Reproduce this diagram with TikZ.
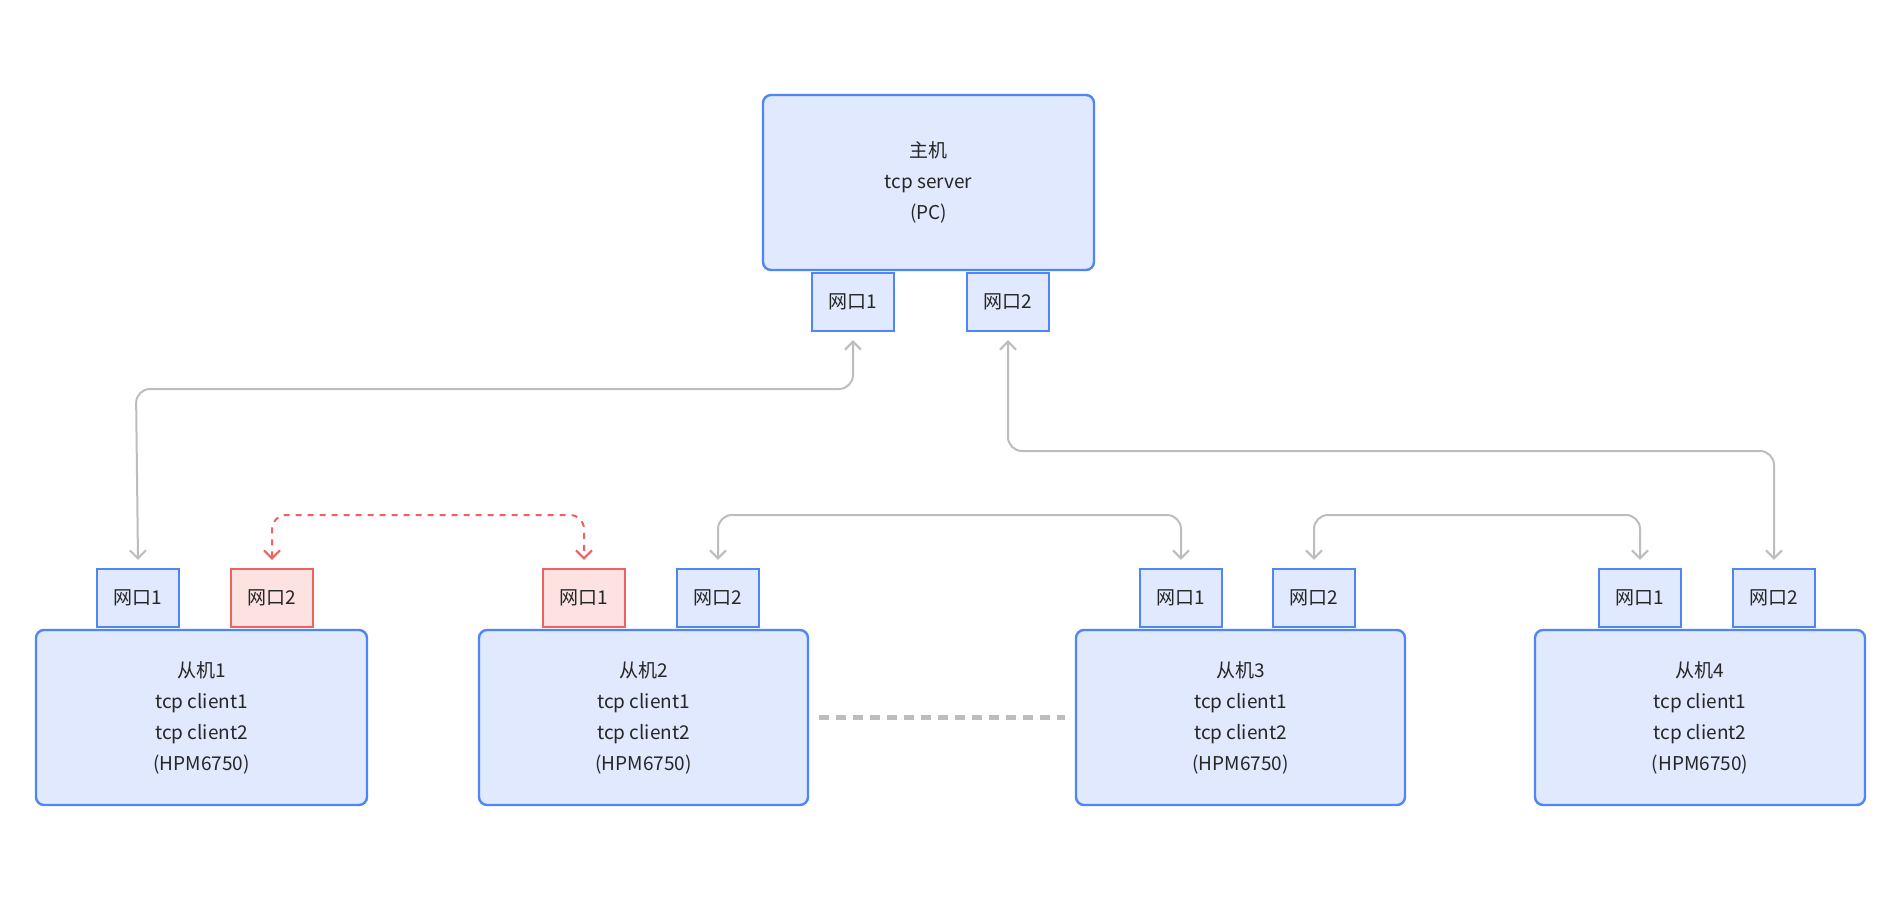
\documentclass[tikz,border=0pt]{standalone}
\usepackage{fontspec}
\setmainfont{Noto Sans CJK SC}
\usetikzlibrary{arrows.meta}
\definecolor{bstroke}{HTML}{4F86F7}
\definecolor{bfill}{HTML}{E0E9FD}
\definecolor{rstroke}{HTML}{F0625F}
\definecolor{rfill}{HTML}{FDE2E2}
\definecolor{gline}{HTML}{BDBDBD}
\definecolor{txt}{HTML}{262626}
\begin{document}
\begin{tikzpicture}[x=0.5pt,y=-0.5pt,
 font=\fontsize{9.5}{15.5}\selectfont, text=txt,
 box/.style={draw=bstroke,fill=bfill,line width=1.2pt,rounded corners=4pt,align=center},
 port/.style={draw=bstroke,fill=bfill,line width=1.2pt,minimum width=41pt,minimum height=29pt,inner sep=0pt},
 rport/.style={port,draw=rstroke,fill=rfill},
 conn/.style={draw=gline,line width=1pt,rounded corners=7pt,{Straight Barb[length=4pt,width=8pt]}-{Straight Barb[length=4pt,width=8pt]}},
 rconn/.style={conn,draw=rstroke,dashed}]
\useasboundingbox (0,0) rectangle (1895,904);
\fill[white] (0,0) rectangle (1895,904);
\node[box,minimum width=165.5pt,minimum height=87.5pt] (host) at (928.5,182.5) {主机\\tcp server\\(PC)};
\node[port] (hp1) at (853,302) {网口1};
\node[port] (hp2) at (1008,302) {网口2};
\node[box,minimum width=165.5pt,minimum height=87.5pt] (s1) at (201.5,717.5) {从机1\\tcp client1\\tcp client2\\(HPM6750)};
\node[box,minimum width=164.5pt,minimum height=87.5pt] (s2) at (643.5,717.5) {从机2\\tcp client1\\tcp client2\\(HPM6750)};
\node[box,minimum width=164.5pt,minimum height=87.5pt] (s3) at (1240.5,717.5) {从机3\\tcp client1\\tcp client2\\(HPM6750)};
\node[box,minimum width=165pt,minimum height=87.5pt] (s4) at (1700,717.5) {从机4\\tcp client1\\tcp client2\\(HPM6750)};
\node[port] (a1) at (138,598) {网口1};
\node[rport] (a2) at (272,598) {网口2};
\node[rport] (b1) at (584,598) {网口1};
\node[port] (b2) at (718,598) {网口2};
\node[port] (c1) at (1181,598) {网口1};
\node[port] (c2) at (1314,598) {网口2};
\node[port] (d1) at (1640,598) {网口1};
\node[port] (d2) at (1774,598) {网口2};
\coordinate (ya) at (0,389);
\coordinate (yb) at (0,451);
\coordinate (yc) at (0,515);
\draw[conn] ([yshift=-4pt]hp1.south) |- ([xshift=-1pt]a1.north |- ya) -- ([yshift=4pt]a1.north);
\draw[conn] ([yshift=-4pt]hp2.south) |- (d2.north |- yb) -- ([yshift=4pt]d2.north);
\draw[rconn] ([yshift=4pt]a2.north) |- (b1.north |- yc) -- ([yshift=4pt]b1.north);
\draw[conn] ([yshift=4pt]b2.north) |- (c1.north |- yc) -- ([yshift=4pt]c1.north);
\draw[conn] ([yshift=4pt]c2.north) |- (d1.north |- yc) -- ([yshift=4pt]d1.north);
\draw[gline,line width=2.5pt,dash pattern=on 5pt off 3.5pt] ([xshift=5pt]s2.east) -- ([xshift=-5pt]s3.west);
\end{tikzpicture}
\end{document}
